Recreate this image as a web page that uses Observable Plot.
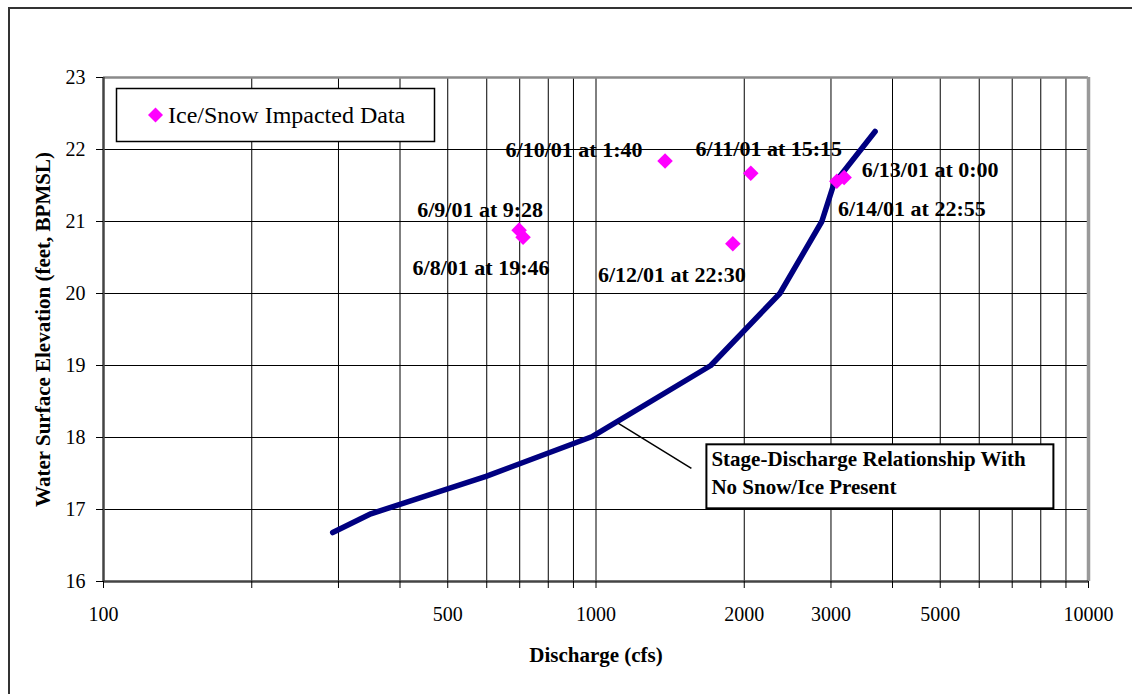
<!DOCTYPE html>
<html>
<head>
<meta charset="utf-8">
<script src="https://cdn.jsdelivr.net/npm/d3@7"></script>
<script src="https://cdn.jsdelivr.net/npm/@observablehq/plot@0.6"></script>
<style>
  html, body { margin: 0; padding: 0; background: #fff; }
  #wrap { position: relative; width: 1132px; height: 694px; overflow: hidden; background: #fff; }
  #border { position: absolute; left: 8px; top: 7px; width: 1140px; height: 700px; border: 2px solid #333; box-sizing: border-box; pointer-events: none; }
  #chart { position: absolute; left: 0; top: 0; }
</style>
</head>
<body>
<div id="wrap"><div id="chart"></div><div id="border"></div></div>
<script>
// ---- data ----
const curveQ = [292, 349, 598, 980, 1710, 2362, 2874, 3040, 3687];
const curveElev = [16.68, 16.94, 17.46, 18.01, 19.0, 20.0, 21.0, 21.52, 22.25];

const pointLabels = ["6/9/01 at 9:28", "6/8/01 at 19:46", "6/10/01 at 1:40", "6/11/01 at 15:15", "6/12/01 at 22:30", "6/13/01 at 0:00", "6/14/01 at 22:55"];
const pointQ = [698, 711, 1381, 2062, 1896, 3190, 3083];
const pointElev = [20.88, 20.78, 21.84, 21.67, 20.69, 21.61, 21.56];

const xGridTicks = [100, 200, 300, 400, 500, 600, 700, 800, 900, 1000, 2000, 3000, 4000, 5000, 6000, 7000, 8000, 9000, 10000];
const xLabelTicks = [100, 500, 1000, 2000, 3000, 5000, 10000];
const yTicks = [16, 17, 18, 19, 20, 21, 22, 23];

const legendLabel = "Ice/Snow Impacted Data";
const curveNoteLines = ["Stage-Discharge Relationship With", "No Snow/Ice Present"];
const curveNoteQ = 1113;
const curveNoteElev = 18.19;
const xTitle = "Discharge (cfs)";
const yTitle = "Water Surface Elevation (feet, BPMSL)";

// ---- build tables ----
const curve = curveQ.map((q, i) => ({q, e: curveElev[i]}));
const points = pointQ.map((q, i) => ({q, e: pointElev[i], label: pointLabels[i]}));

// label offsets (styling, in px)
const labelOffsets = [[-39, -20], [-42, 31], [-91, -11], [18, -24], [-61, 31], [86, -8], [75, 28]];

const FONT = "'Liberation Serif', 'Times New Roman', serif";
const MAGENTA = "#FF00FF";

const labelMarks = points.map((p, i) => Plot.text([p], {
  x: "q", y: "e", text: "label",
  dx: labelOffsets[i][0], dy: labelOffsets[i][1],
  fontSize: 22, fontWeight: "bold", fontFamily: FONT, fill: "#000",
  textAnchor: "middle", lineAnchor: "middle"
}));

const plot = Plot.plot({
  width: 1132,
  height: 694,
  marginLeft: 103,
  marginRight: 44,
  marginTop: 77,
  marginBottom: 113,
  style: {fontFamily: FONT, background: "transparent", overflow: "visible"},
  x: {type: "log", domain: [100, 10000]},
  y: {domain: [16, 23]},
  marks: [
    Plot.gridX(xGridTicks, {stroke: "#000", strokeOpacity: 1, strokeWidth: 1}),
    Plot.gridY(yTicks, {stroke: "#000", strokeOpacity: 1, strokeWidth: 1}),
    Plot.ruleY([23], {stroke: "#8a8a8a", strokeWidth: 2.5}),
    Plot.ruleX([10000], {stroke: "#999", strokeWidth: 3.5}),
    Plot.ruleX([100], {stroke: "#444", strokeWidth: 2.5}),
    Plot.ruleY([16], {stroke: "#444", strokeWidth: 2.5}),
    Plot.axisX({ticks: xGridTicks, tickSize: 7, tickFormat: () => "", stroke: "#000", label: null}),
    Plot.axisX({ticks: xLabelTicks, tickSize: 0, tickPadding: 25, tickFormat: d => String(d), fontSize: 20, fill: "#000", label: null}),
    Plot.axisY({ticks: yTicks, tickSize: 7, tickPadding: 11, tickFormat: d => String(d), fontSize: 20, fill: "#000", stroke: "#000", label: null}),
    Plot.text([xTitle], {text: d => d, frameAnchor: "bottom", dy: 74, fontSize: 21, fontWeight: "bold", fontFamily: FONT, fill: "#000", textAnchor: "middle", lineAnchor: "middle"}),
    Plot.text([yTitle], {text: d => d, frameAnchor: "left", dx: -60, rotate: -90, fontSize: 21, fontWeight: "bold", fontFamily: FONT, fill: "#000", textAnchor: "middle", lineAnchor: "middle"}),
    Plot.line(curve, {x: "q", y: "e", stroke: "#000080", strokeWidth: 5.5, strokeLinecap: "round", strokeLinejoin: "round"}),
    Plot.dot(points, {x: "q", y: "e", symbol: "diamond2", r: 7, fill: MAGENTA, stroke: "none"}),
    ...labelMarks
  ]
});

document.getElementById("chart").appendChild(plot);

// ---- legend and note box, positioned via the plot's own scales ----
const xs = plot.scale("x"), ys = plot.scale("y");
const svg = d3.select(plot);
const fx = xs.apply(100), fy = ys.apply(23);

const lg = svg.append("g").attr("text-anchor", "start");
lg.append("rect").attr("x", fx + 13.5).attr("y", fy + 11.5).attr("width", 318).attr("height", 53)
  .attr("fill", "#fff").attr("stroke", "#000").attr("stroke-width", 1.5);
const dcx = fx + 52.5, dcy = fy + 38;
lg.append("path").attr("d", `M${dcx},${dcy - 7.5}L${dcx + 7.5},${dcy}L${dcx},${dcy + 7.5}L${dcx - 7.5},${dcy}Z`).attr("fill", MAGENTA);
lg.append("text").attr("x", fx + 65).attr("y", dcy + 8).attr("text-anchor", "start").attr("font-family", FONT).attr("font-size", 24).attr("fill", "#000").text(legendLabel);

const ax = xs.apply(curveNoteQ), ay = ys.apply(curveNoteElev);
const ng = svg.append("g").attr("text-anchor", "start");
ng.append("line").attr("x1", ax).attr("y1", ay).attr("x2", ax + 73).attr("y2", ay + 45).attr("stroke", "#000").attr("stroke-width", 1.5);
ng.append("rect").attr("x", ax + 88).attr("y", ay + 21).attr("width", 347).attr("height", 64)
  .attr("fill", "#fff").attr("stroke", "#000").attr("stroke-width", 2);
curveNoteLines.forEach((t, i) => {
  ng.append("text").attr("x", ax + 93).attr("y", ay + 43 + 28 * i).attr("text-anchor", "start").attr("font-family", FONT).attr("font-size", 21)
    .attr("font-weight", "bold").attr("fill", "#000").text(t);
});
</script>
</body>
</html>
